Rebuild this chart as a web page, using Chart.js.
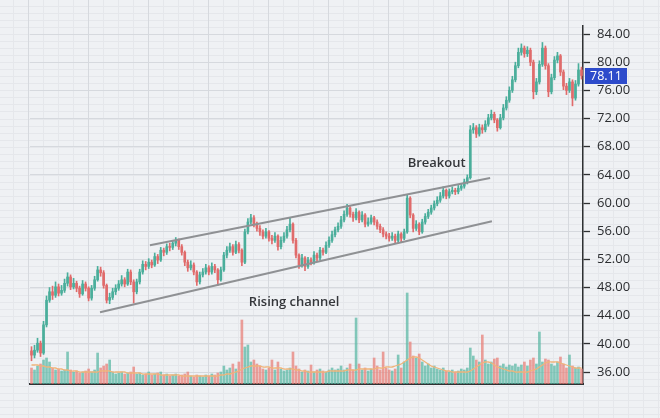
<!DOCTYPE html>
<html>
<head>
<meta charset="utf-8">
<script src="https://cdn.jsdelivr.net/npm/chart.js@4.4.0/dist/chart.umd.min.js"></script>
<style>
  html, body { margin: 0; padding: 0; background: #eff1f4; }
  canvas { display: block; }
</style>
</head>
<body>
<canvas id="chart" width="660" height="418"></canvas>
<script>
// prix (open / high / low / close), une bougie par colonne
const opens = [39.0,38.4,39.1,40.1,38.7,42.7,46.2,47.4,46.9,48.1, 47.2,47.6,48.6,49.5,48.1,48.6,47.9,47.1,48.5,47.9,
  46.5,47.9,49.1,50.5,50.1,48.3,46.2,46.6,47.4,47.9, 48.5,49.1,48.5,50.2,48.8,47.4,48.8,50.2,51.3,51.0,
  51.6,51.2,52.4,51.9,53.3,53.0,53.8,53.7,54.3,54.7, 53.8,53.0,51.6,50.8,51.2,50.2,48.8,49.8,50.2,50.8,
  50.2,51.0,50.5,49.1,50.5,52.6,53.3,53.8,53.0,54.1, 53.3,51.6,55.9,57.3,57.9,57.0,56.4,55.9,55.3,55.9,
  55.0,54.7,55.3,53.8,54.7,55.3,56.2,57.0,54.7,52.6, 51.2,52.2,51.0,51.9,51.6,52.6,52.2,53.3,53.0,54.0,
  54.7,55.5,56.2,56.7,57.6,58.4,59.3,58.4,57.9,58.7, 57.6,58.3,57.0,57.3,57.9,57.3,56.7,56.2,55.6,55.3,
  55.0,55.3,54.7,55.6,55.0,55.9,60.7,58.3,56.4,57.0, 55.9,57.3,58.1,58.7,59.3,59.9,60.4,61.0,61.8,61.0,
  61.6,61.8,61.6,62.1,62.4,63.0,63.6,70.4,70.7,69.8, 70.7,70.4,71.2,72.1,72.6,71.8,70.7,72.1,73.5,74.6,
  76.0,77.5,79.5,81.4,82.0,81.2,81.7,80.0,75.8,77.2, 79.7,82.0,79.5,75.8,77.8,80.3,80.9,78.6,76.6,76.0,
  77.2,74.9,76.9,78.9];
const highs = [39.6,39.8,40.8,40.4,43.2,46.8,48.0,48.2,48.8,48.5, 48.3,49.2,50.1,49.8,49.3,48.9,48.2,49.0,48.8,48.1,
  48.3,49.6,51.0,50.9,50.4,48.5,47.2,47.9,48.4,49.0, 49.7,49.4,50.6,50.5,49.1,49.2,50.6,51.8,51.7,52.1,
  51.9,52.9,52.7,53.7,53.6,54.2,54.3,54.7,55.1,54.9, 54.1,53.2,51.9,51.8,51.5,50.4,50.2,50.7,51.3,51.1,
  51.5,51.3,50.7,50.9,53.0,53.8,54.3,54.1,54.6,54.4, 53.5,56.3,57.8,58.4,58.2,57.3,56.8,56.2,56.4,56.1,
  55.4,55.8,55.5,55.2,55.8,56.7,57.9,57.2,55.0,52.8, 52.7,52.4,52.3,52.2,53.1,52.9,53.7,53.6,54.5,55.2,
  56.0,56.6,57.2,58.1,58.9,59.8,59.5,58.7,59.2,58.9, 58.8,58.5,57.9,58.3,58.1,57.6,57.0,56.5,55.9,55.7,
  55.8,55.6,56.0,55.8,56.3,61.2,60.9,58.5,57.5,57.2, 57.7,58.5,59.1,59.7,60.3,60.9,61.5,62.3,62.0,62.0,
  62.3,62.1,62.5,62.8,63.4,64.0,71.0,71.3,71.0,71.2, 71.1,71.7,72.6,73.2,72.9,72.0,72.6,74.0,75.1,76.5,
  78.0,80.0,82.0,82.6,82.3,82.2,82.0,80.3,77.7,80.2, 82.8,82.3,79.8,78.3,80.8,81.4,81.1,78.9,77.0,77.7,
  77.5,77.4,79.8,79.3];
const lows = [37.6,38.0,38.8,38.2,38.5,42.4,45.9,46.3,46.6,46.8, 46.9,47.3,48.2,47.7,47.8,47.4,46.6,46.9,47.5,46.1,
  46.2,47.6,48.9,49.6,47.9,45.8,45.7,46.3,47.0,47.6, 48.2,48.1,48.3,48.4,45.8,47.1,48.5,49.9,50.5,50.7,
  50.8,51.0,51.4,51.7,52.5,52.7,53.2,53.4,53.9,53.4, 52.6,51.1,50.3,50.5,49.8,48.3,48.5,49.5,49.9,49.8,
  49.9,50.1,48.3,48.9,50.3,52.2,53.0,52.6,52.8,52.9, 51.1,51.4,55.6,57.0,56.6,56.0,55.4,54.9,55.0,54.6,
  54.2,54.4,53.3,53.5,54.4,55.0,55.9,54.3,52.2,50.7, 50.9,50.4,50.7,51.2,51.3,51.8,51.9,52.6,52.8,53.7,
  54.4,55.2,55.9,56.4,57.3,58.1,58.0,57.4,57.6,57.2, 57.3,56.6,56.7,57.0,56.9,56.3,55.8,55.2,54.9,54.6,
  54.7,54.3,54.4,54.5,54.8,55.7,57.9,55.9,56.1,55.5, 55.7,57.0,57.8,58.4,59.0,59.6,60.1,60.7,60.6,60.7,
  61.3,61.2,61.3,61.8,62.1,62.7,63.4,69.9,69.3,69.5, 69.9,70.1,70.9,71.8,71.4,70.2,70.5,71.8,73.2,74.3,
  75.7,77.2,79.2,81.0,80.7,80.8,79.5,74.8,75.4,76.9, 79.4,79.0,75.1,75.5,77.5,79.9,78.1,76.1,75.4,75.7,
  73.8,74.6,76.6,77.6];
const closes = [38.4,39.1,40.1,38.7,42.7,46.2,47.4,46.9,48.1,47.2, 47.6,48.6,49.5,48.1,48.6,47.9,47.1,48.5,47.9,46.5,
  47.9,49.1,50.5,50.1,48.3,46.2,46.6,47.4,47.9,48.5, 49.1,48.5,50.2,48.8,47.4,48.8,50.2,51.3,51.0,51.6,
  51.2,52.4,51.9,53.3,53.0,53.8,53.7,54.3,54.7,53.8, 53.0,51.6,50.8,51.2,50.2,48.8,49.8,50.2,50.8,50.2,
  51.0,50.5,49.1,50.5,52.6,53.3,53.8,53.0,54.1,53.3, 51.6,55.9,57.3,57.9,57.0,56.4,55.9,55.3,55.9,55.0,
  54.7,55.3,53.8,54.7,55.3,56.2,57.0,54.7,52.6,51.2, 52.2,51.0,51.9,51.6,52.6,52.2,53.3,53.0,54.0,54.7,
  55.5,56.2,56.7,57.6,58.4,59.3,58.4,57.9,58.7,57.6, 58.3,57.0,57.3,57.9,57.3,56.7,56.2,55.6,55.3,55.0,
  55.3,54.7,55.6,55.0,55.9,60.7,58.3,56.4,57.0,55.9, 57.3,58.1,58.7,59.3,59.9,60.4,61.0,61.8,61.0,61.6,
  61.8,61.6,62.1,62.4,63.0,63.6,70.4,70.7,69.8,70.7, 70.4,71.2,72.1,72.6,71.8,70.7,72.1,73.5,74.6,76.0,
  77.5,79.5,81.4,82.0,81.2,81.7,80.0,75.8,77.2,79.7, 82.0,79.5,75.8,77.8,80.3,80.9,78.6,76.6,76.0,77.2,
  74.9,76.9,78.9,78.11];

// volumes (en milliers) et leur moyenne mobile
const volumes = [16,14,18,20,24,26,22,16,14,15, 13,14,32,14,12,13,11,12,13,15,
  12,14,31,16,18,20,24,12,10,11, 12,10,11,12,17,10,11,9,10,12,
  9,10,11,12,9,10,8,9,10,8, 9,10,12,8,7,9,8,7,9,8,
  10,9,11,12,18,14,16,20,15,22, 64,37,39,22,24,20,18,15,14,16,
  24,14,22,15,13,14,16,32,18,15, 12,14,13,19,12,14,15,13,12,14,
  16,14,15,18,14,16,20,14,66,20, 14,16,13,15,26,18,14,32,16,14,
  13,15,29,16,22,91,42,28,26,30, 22,18,20,16,18,15,14,16,13,12,
  14,12,13,15,14,16,36,28,24,22, 49,24,20,22,25,26,18,20,17,19,
  18,20,17,19,22,18,24,26,20,52, 22,25,24,20,18,22,27,20,16,29,
  18,16,17,15];
const volumeMA = [19,19,19,18,18,17,17, 16,16,15,15,14,14,13,13,13,12,
  12,12,12,12,12,12,13,13,13,13,12,12,12,12,
  12,11,11,11,11,11,10,10,10,10,10,10,9,9,9,9,9,9,9,8,
  8,8,8,8,8,8,8,8,8,8,8,8,9,9,10,10,11,12,
  13,15,16,17,18,18,18,18,17,17,17,16,
  16,16,16,15,15,15,15,14,14,13,13,12,12,12,12,
  12,12,12,13,13,13,13,13,13,14,14,14,14,15,15,15,15,15,15,16,
  16,16,17,17,17,18,19,20,22,24,26,27,27,26,24,22,20,18,17,16,
  15,14,13,13,12,12,12,12,12,12,13,15,17,19,21,22,22,21,19,17,
  16,15,14,13,13,12,12,12,12,12,13,14,15,17,19,
  21,22,22,22,22,21,20,19,18,17,16,16,16];

// canal haussier (index de bougie, prix)
const channelTop = [{x: 39.4, y: 54.0}, {x: 152.6, y: 63.55}];
const channelBottom = [{x: 22.8, y: 44.5}, {x: 153.2, y: 57.4}];

const priceTicks = [36, 40, 44, 48, 52, 56, 60, 64, 68, 72, 76, 80, 84];

const labels = closes.map((c, i) => i);
const green = '#4aae9b', red = '#e06b6b';
const up = closes.map((c, i) => c >= opens[i]);
const candleColors = up.map(u => u ? green : red);
const volColors = up.map(u => u ? 'rgba(92,184,165,0.75)' : 'rgba(232,128,122,0.75)');

// fond quadrille + etiquettes
const paper = {
  id: 'paper',
  beforeDraw(chart) {
    const {ctx, chartArea: a, width: w, height: h} = chart;
    const ys = chart.scales.y;
    ctx.save();
    ctx.fillStyle = '#eff1f4';
    ctx.fillRect(0, 0, w, h);
    ctx.lineWidth = 1;
    ctx.strokeStyle = '#e5e7eb';
    ctx.beginPath();
    for (let x = 13; x < w; x += 15) { ctx.moveTo(x + 0.5, 0); ctx.lineTo(x + 0.5, h); }
    for (let v = 30; v <= 90; v++) {
      const y = Math.round(ys.getPixelForValue(v)) + 0.5;
      ctx.moveTo(0, y); ctx.lineTo(w, y);
    }
    ctx.stroke();
    ctx.strokeStyle = '#d6d9de';
    ctx.beginPath();
    for (let x = 28; x < a.right; x += 60) { ctx.moveTo(x + 0.5, 0); ctx.lineTo(x + 0.5, a.bottom); }
    ctx.stroke();
    ctx.restore();
  },
  afterDraw(chart) {
    const {ctx, chartArea: a} = chart;
    const xs = chart.scales.xl, ys = chart.scales.y;
    ctx.save();
    ctx.font = '600 13px "Open Sans"';
    ctx.fillStyle = '#34363a';
    ctx.textAlign = 'center';
    ctx.textBaseline = 'middle';
    ctx.fillText('Breakout', xs.getPixelForValue(134.8), ys.getPixelForValue(65.7));
    ctx.fillText('Rising channel', xs.getPixelForValue(87.4), ys.getPixelForValue(45.9));
    // etiquette du dernier prix
    const last = closes[closes.length - 1];
    const y = Math.round(ys.getPixelForValue(last));
    ctx.fillStyle = '#2d4bcb';
    ctx.fillRect(a.right + 2, y - 8, 42, 16);
    ctx.fillStyle = '#ffffff';
    ctx.font = '12.5px "Open Sans"';
    ctx.textAlign = 'left';
    ctx.fillText(last.toFixed(2), a.right + 7, y + 0.5);
    ctx.restore();
  }
};

new Chart(document.getElementById('chart'), {
  data: {
    labels: labels,
    datasets: [
      {
        type: 'bar', label: 'Volume', data: volumes, yAxisID: 'yv',
        backgroundColor: volColors, barThickness: 2, grouped: false, order: 5
      },
      {
        type: 'line', label: 'MA', data: volumeMA, yAxisID: 'yv',
        borderColor: '#f0b47a', borderWidth: 1.3, pointRadius: 0, tension: 0.4, order: 4
      },
      {
        type: 'bar', label: 'wick', data: lows.map((l, i) => [l, highs[i]]), yAxisID: 'y',
        backgroundColor: candleColors, barThickness: 1, grouped: false, order: 3
      },
      {
        type: 'bar', label: 'body', data: opens.map((o, i) => [o, closes[i]]), yAxisID: 'y',
        backgroundColor: candleColors, barThickness: 2, minBarLength: 1, grouped: false, order: 2
      },
      {
        type: 'line', label: 'top', data: channelTop, xAxisID: 'xl', yAxisID: 'y',
        borderColor: '#8f9194', borderWidth: 2, pointRadius: 0, order: 1
      },
      {
        type: 'line', label: 'bottom', data: channelBottom, xAxisID: 'xl', yAxisID: 'y',
        borderColor: '#8f9194', borderWidth: 2, pointRadius: 0, order: 1
      }
    ]
  },
  options: {
    responsive: false,
    animation: false,
    layout: { padding: { left: 30, right: 0, top: 26, bottom: 34 } },
    plugins: { legend: { display: false }, tooltip: { enabled: false } },
    scales: {
      x: {
        type: 'category', offset: true,
        grid: { display: false },
        ticks: { display: false },
        border: { display: true, color: '#2f3133', width: 2 },
        afterFit: s => { s.height = 0; }
      },
      xl: { type: 'linear', display: false, min: -0.5, max: closes.length - 0.5 },
      yv: { type: 'linear', display: false, min: 0, max: 358 },
      y: {
        type: 'linear', position: 'right', min: 34.3, max: 85.14,
        afterBuildTicks: s => { s.ticks = priceTicks.map(v => ({ value: v })); },
        afterFit: s => { s.width = 77; },
        grid: { color: '#d6d9de', tickColor: '#2f3133', tickLength: 7, tickWidth: 1.3 },
        border: { color: '#2f3133', width: 1.5 },
        ticks: {
          padding: 7, color: '#2b2d30',
          font: { family: 'Open Sans', size: 13 },
          callback: v => Number(v).toFixed(2)
        }
      }
    }
  },
  plugins: [paper]
});
</script>
</body>
</html>
